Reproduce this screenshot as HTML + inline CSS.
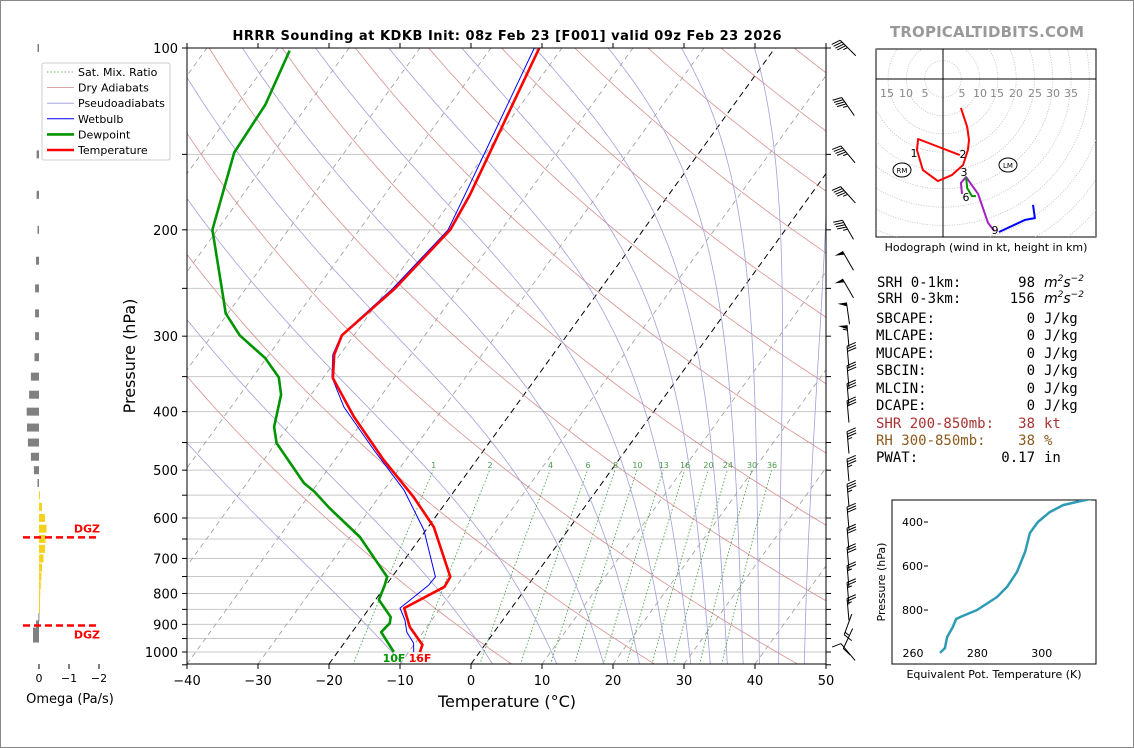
<!DOCTYPE html>
<html><head><meta charset="utf-8"><style>
html,body{margin:0;padding:0;background:#fff}
svg{display:block;font-family:"DejaVu Sans","Liberation Sans",sans-serif}
</style></head><body>
<svg id="fig" xmlns="http://www.w3.org/2000/svg" width="1134" height="748" viewBox="0 0 1134 748">
<defs>
<clipPath id="cmain"><rect x="187" y="48" width="639" height="616"/></clipPath>
<clipPath id="chodo"><rect x="876" y="49" width="220" height="188"/></clipPath>
<clipPath id="ctheta"><rect x="892" y="500" width="204" height="164"/></clipPath>
</defs>
<rect x="0.5" y="0.5" width="1133" height="747" fill="#fff" stroke="#888"/>
<text x="507" y="40" text-anchor="middle" font-size="13" font-weight="bold" textLength="549">HRRR Sounding at KDKB Init: 08z Feb 23 [F001] valid 09z Feb 23 2026</text>
<text x="890" y="37" font-size="15" font-weight="bold" fill="#999" textLength="194">TROPICALTIDBITS.COM</text>
<g id="gmain"></g>
<g id="gomega"></g>
<g id="gbarbs"></g>
<g id="ghodo"></g>
<g id="gtheta"></g>
<text x="507" y="707" text-anchor="middle" font-size="16">Temperature (°C)</text>
<text transform="translate(135,356) rotate(-90)" text-anchor="middle" font-size="16">Pressure (hPa)</text>
<text x="70" y="703" text-anchor="middle" font-size="13">Omega (Pa/s)</text>
<text x="986" y="251" text-anchor="middle" font-size="11">Hodograph (wind in kt, height in km)</text>
<text x="994" y="678" text-anchor="middle" font-size="11">Equivalent Pot. Temperature (K)</text>
<text transform="translate(885,582) rotate(-90)" text-anchor="middle" font-size="11">Pressure (hPa)</text>
<g font-family="'DejaVu Sans Mono','Liberation Mono',monospace" font-size="14">
<text x="877" y="287">SRH 0-1km:</text>
<text x="1035" y="287" text-anchor="end">98</text>
<text x="1044" y="287" font-family="'DejaVu Sans',sans-serif" font-style="italic">m<tspan font-size="9" dy="-6">2</tspan><tspan dy="6">s</tspan><tspan font-size="9" dy="-6">−2</tspan></text>
<text x="877" y="303">SRH 0-3km:</text>
<text x="1035" y="303" text-anchor="end">156</text>
<text x="1044" y="303" font-family="'DejaVu Sans',sans-serif" font-style="italic">m<tspan font-size="9" dy="-6">2</tspan><tspan dy="6">s</tspan><tspan font-size="9" dy="-6">−2</tspan></text>
<text x="876" y="323">SBCAPE:</text>
<text x="1035" y="323" text-anchor="end">0</text>
<text x="1044" y="323">J/kg</text>
<text x="876" y="340">MLCAPE:</text>
<text x="1035" y="340" text-anchor="end">0</text>
<text x="1044" y="340">J/kg</text>
<text x="876" y="358">MUCAPE:</text>
<text x="1035" y="358" text-anchor="end">0</text>
<text x="1044" y="358">J/kg</text>
<text x="876" y="375">SBCIN:</text>
<text x="1035" y="375" text-anchor="end">0</text>
<text x="1044" y="375">J/kg</text>
<text x="876" y="393">MLCIN:</text>
<text x="1035" y="393" text-anchor="end">0</text>
<text x="1044" y="393">J/kg</text>
<text x="876" y="410">DCAPE:</text>
<text x="1035" y="410" text-anchor="end">0</text>
<text x="1044" y="410">J/kg</text>
<text x="876" y="428" fill="#a83232">SHR 200-850mb:</text>
<text x="1035" y="428" text-anchor="end" fill="#a83232">38</text>
<text x="1044" y="428" fill="#a83232">kt</text>
<text x="876" y="445" fill="#8c5a1e">RH 300-850mb:</text>
<text x="1035" y="445" text-anchor="end" fill="#8c5a1e">38</text>
<text x="1044" y="445" fill="#8c5a1e">%</text>
<text x="876" y="462">PWAT:</text>
<text x="1035" y="462" text-anchor="end">0.17</text>
<text x="1044" y="462">in</text>
</g>
</svg>
<script>
// ---------- data ----------
const tempP = [100,175,200,250,299,322,352,408,481,554,621,751,780,846,909,973,1000];
const tempT = [-53.2,-48.0,-47.2,-49.0,-51.7,-50.8,-48.6,-41.7,-33.1,-25.1,-19.2,-11.8,-11.6,-15.1,-12.4,-8.8,-8.4];
const dewP = [101,124,149,200,250,275,299,326,351,375,424,451,525,543,578,645,751,775,820,875,896,927,1000];
const dewT = [-88.1,-86.0,-85.5,-80.7,-73.4,-70.3,-66.1,-60.2,-56.3,-54.2,-51.9,-49.9,-42.0,-39.6,-35.8,-28.6,-20.7,-20.2,-19.5,-16.1,-15.6,-15.9,-12.1];
const wbP = [100,175,200,250,299,322,351,393,463,539,628,751,775,846,885,927,967,1000];
const wbT = [-53.9,-48.7,-47.5,-49.3,-51.8,-51.0,-48.8,-44.1,-35.5,-27.2,-20.3,-13.9,-14.0,-15.7,-13.8,-12.3,-10.2,-9.3];
const mixRatios = [1,2,4,6,8,10,13,16,20,24,30,36];
const tempTicks = [-40,-30,-20,-10,0,10,20,30,40,50];
const presTicks = [100,200,300,400,500,600,700,800,900,1000];
const omegaP = [100,150,175,200,225,250,275,300,325,350,375,400,425,450,475,500,525,550,575,600,625,650,675,700,725,750,775,800,825,850,875,900,925,950];
const omegaV = [0.05,0.08,0.08,0.05,0.1,0.13,0.13,0.13,0.15,0.27,0.33,0.41,0.4,0.37,0.27,0.17,0.05,-0.02,-0.1,-0.2,-0.25,-0.22,-0.2,-0.15,-0.1,-0.08,-0.06,-0.04,-0.02,-0.01,0.02,0.1,0.2,0.2];
const dgzP = [646,904];
const windP = [100,125,150,175,200,225,250,275,300,325,350,375,400,450,500,550,600,650,700,750,800,850,900,950,1000];
const windDir = [315,325,320,318,330,330,330,352,355,355,355,355,355,355,355,355,355,355,355,355,355,355,200,205,320];
const windSpd = [45,45,45,45,45,50,50,50,55,30,30,30,30,35,35,35,30,30,30,25,25,25,15,10,10];
const hodoRedU = [4.9,6.6,7.1,6.8,5.5,2.5,-1.4,-5.5,-7.1,-6.8,4.6];
const hodoRedV = [-7.9,-13.1,-16.7,-19.4,-23.5,-26.2,-27.9,-24.9,-19.4,-16.4,-20.8];
const hodoGreenU = [6.3,6.6,7.9,9.0];
const hodoGreenV = [-26.8,-29.8,-32.0,-32.0];
const hodoPurpleU = [5.2,4.9,6.3,9.6,12.3,14.0];
const hodoPurpleV = [-31.4,-28.4,-26.8,-31.4,-39.3,-41.5];
const hodoBlueU = [15.3,22.4,25.1,24.6];
const hodoBlueV = [-41.8,-38.5,-38.0,-34.4];
const thetaP = [995,973,923,877,841,827,800,741,695,627,536,450,400,355,323,305,291];
const thetaK = [268.4,269.9,270.6,272.4,273.4,275.5,279.9,286.1,289.2,292.3,294.8,296.3,298.8,302.5,306.6,311.9,316.8];

// ---------- helpers ----------
const NS = "http://www.w3.org/2000/svg";
function mk(tag, attrs, parent){ const el=document.createElementNS(NS,tag); for(const k in attrs) el.setAttribute(k,attrs[k]); parent.appendChild(el); return el; }
function nm(el, name, inter){
  
  
  return el;
}
const Y = p => 48 + 604*Math.log10(p/100);
const X = (T,y) => 187 + (T+40)*7.1 + 0.724*(664-y);
const pathOf = pts => pts.map((q,i)=>(i?'L':'M')+q[0].toFixed(1)+' '+q[1].toFixed(1)).join(' ');

const gm = document.getElementById('gmain');
const clip = mk('g',{'clip-path':'url(#cmain)'},gm);
nm(clip,'plot-area',false);

// isobars
for(let p=100;p<=1050;p+=50){ const y=Y(p);
  const l=mk('line',{x1:187,x2:826,y1:y,y2:y,stroke:'#c8c8c8','stroke-width':1},clip);
  nm(l,'isobar-'+p,false); }
// isotherms
for(let T=-150;T<=50;T+=10){
  const x1=X(T,664), x2=X(T,48);
  const special = (T===0||T===-20);
  const l=mk('line',{x1:x1,y1:664,x2:x2,y2:48,stroke: special?'#000':'#999','stroke-width':special?1:0.8,'stroke-dasharray':special?'6,4':'5,4'},clip);
  nm(l, special?'key-isotherm-'+T:'isotherm-'+T,false);
}
// dry adiabats (evenly spaced at 100 hPa)
for(let k=-9;k<=3;k++){
  const th=(-37.9+10.3*k+273.15)/Math.pow(0.1,0.2857);
  const pts=[]; for(let p=1050;p>=100;p-=10){ const T=th*Math.pow(p/1000,0.2857)-273.15; const y=Y(p); pts.push([X(T,y),y]); }
  const l=mk('path',{d:pathOf(pts),fill:'none',stroke:'#d89090','stroke-width':0.8},clip);
  nm(l,'dry-adiabat',false);
}
// moist adiabats (integrated down from 100 hPa)
function es(T){ return 6.112*Math.exp(17.67*T/(T+243.5)); }
function dTdp(p,T){ const Tk=T+273.15, e=es(T), rs=0.622*e/Math.max(p-e,1); 
  return (287*Tk + 2.5e6*rs)/(p*(1005 + 2.5e6*2.5e6*rs*0.622/(287*Tk*Tk))); }
for(let k=-4;k<=10;k++){
  let T=-95.0+10.3*k; const pts=[];
  for(let p=100;p<=1050;p+=1){ const y=Y(p); pts.push([X(T,y),y]); T+=dTdp(p,T)*1; if(T>80) break; }
  const l=mk('path',{d:pathOf(pts),fill:'none',stroke:'#a0a0dc','stroke-width':0.8},clip);
  nm(l,'moist-adiabat',false);
}
// mixing ratio lines
mixRatios.forEach(w=>{
  const pts=[]; for(let p=1050;p>=500;p-=10){ const e=p*w/(622+w); const L=Math.log(e/6.112); const T=243.5*L/(17.67-L); const y=Y(p); pts.push([X(T,y),y]); }
  const l=mk('path',{d:pathOf(pts),fill:'none',stroke:'#3a9a3a','stroke-width':0.8,'stroke-dasharray':'1.5,2'},clip);
  nm(l,'mixing-ratio-line',false);
  const e=500*w/(622+w), L=Math.log(e/6.112), T=243.5*L/(17.67-L);
  const t=mk('text',{x:X(T,Y(500))+0.5,y:468,'font-size':8,fill:'#4a9a4a','text-anchor':'middle'},clip);
  nm(t,'mixing-ratio-label',false);
  t.textContent=String(w);
});
// traces
function trace(P,T,color,w,name){
  const pts=P.map((p,i)=>{const y=Y(p); return [X(T[i],y),y];});
  const l=mk('path',{d:pathOf(pts),fill:'none',stroke:color,'stroke-width':w,'stroke-linejoin':'round'},clip);
  nm(l,name,false);
}
trace(wbP,wbT,'#0000ff',1,'wetbulb-line');
trace(dewP,dewT,'#009400',2.6,'dewpoint-line');
trace(tempP,tempT,'#ff0000',2.6,'temperature-line');
// surface labels
const tdF = Math.floor(dewT[dewT.length-1]*9/5+32), tF=Math.floor(tempT[tempT.length-1]*9/5+32);
let st=mk('text',{x:394,y:662,'font-size':11,'font-weight':'bold',fill:'#009400','text-anchor':'middle'},gm);
nm(st,'surface-dewpoint-label',false);
st.textContent=tdF+'F';
st=mk('text',{x:420,y:662,'font-size':11,'font-weight':'bold',fill:'#ff0000','text-anchor':'middle'},gm);
nm(st,'surface-temperature-label',false);
st.textContent=tF+'F';
// frame
const fr=mk('rect',{x:187,y:48,width:639,height:616,fill:'none',stroke:'#000','stroke-width':1},gm);
nm(fr,'plot-frame',false);
// ticks
for(let p=100;p<=1050;p+=50){ const y=Y(p);
  let t=mk('line',{x1:182,x2:187,y1:y,y2:y,stroke:'#000'},gm); nm(t,'y-tick',false);
  t=mk('line',{x1:826,x2:831,y1:y,y2:y,stroke:'#000'},gm); nm(t,'y-tick-right',false); }
presTicks.forEach(p=>{ const t=mk('text',{x:178,y:Y(p)+5,'font-size':13,'text-anchor':'end'},gm); nm(t,'y-tick-label',false); t.textContent=p; });
tempTicks.forEach(T=>{ const x=187+(T+40)*7.1;
  let l=mk('line',{x1:x,x2:x,y1:664,y2:669,stroke:'#000'},gm); nm(l,'x-tick',false);
  l=mk('line',{x1:x,x2:x,y1:43,y2:48,stroke:'#000'},gm); nm(l,'x-tick-top',false);
  const t=mk('text',{x:x,y:685,'font-size':13,'text-anchor':'middle'},gm); nm(t,'x-tick-label',false);
  t.textContent=(T<0?'−':'')+Math.abs(T); });
// legend
const lg=mk('g',{},gm); nm(lg,'legend',false);
const lb=mk('rect',{x:42,y:63,width:128,height:97,fill:'#fff',stroke:'#ccc',rx:2},lg); nm(lb,'legend-box',false);
const legItems=[['Sat. Mix. Ratio','#3a9a3a',0.8,'1.5,2'],['Dry Adiabats','#d08a8a',0.8,''],['Pseudoadiabats','#9a9ad6',0.8,''],['Wetbulb','#0000ff',1,''],['Dewpoint','#009400',2.6,''],['Temperature','#ff0000',2.6,'']];
legItems.forEach((it,i)=>{ const y=72+i*15.6;
  const l=mk('line',{x1:47,x2:74,y1:y,y2:y,stroke:it[1],'stroke-width':it[2],'stroke-dasharray':it[3]},lg); nm(l,'legend-swatch',false);
  const t=mk('text',{x:78,y:y+4,'font-size':11},lg); nm(t,'legend-entry',false); t.textContent=it[0]; });

// ---------- omega panel ----------
const go=document.getElementById('gomega');
const OX = v => 39 - v*30;
omegaP.forEach((p,i)=>{ const v=omegaV[i], y=Y(p);
  const x0=Math.min(39,OX(v)), w=Math.max(1,Math.abs(OX(v)-39));
  const r=mk('rect',{x:x0,y:y-4,width:w,height:8,fill: v<0?'#f5d21e':'#808080'},go); nm(r,'omega-bar',false); });
dgzP.forEach((p,i)=>{ const y=Y(p);
  const l=mk('line',{x1:23,x2:98,y1:y,y2:y,stroke:'#ff0000','stroke-width':2.5,'stroke-dasharray':'7,4'},go); nm(l,'dgz-line',false);
  const t=mk('text',{x:100,y:i===0?y-5:y+13,'font-size':11,'font-weight':'bold',fill:'#ff0000','text-anchor':'end'},go); nm(t,'dgz-label',false); t.textContent='DGZ'; });
[0,-1,-2].forEach(v=>{ const x=OX(v);
  const l=mk('line',{x1:x,x2:x,y1:664,y2:669,stroke:'#000'},go); nm(l,'omega-tick',false);
  const t=mk('text',{x:x,y:682,'font-size':11,'text-anchor':'middle'},go); nm(t,'omega-tick-label',false); t.textContent=v===0?'0':'−'+Math.abs(v); });

// ---------- wind barbs (pivot at middle) ----------
const gb=document.getElementById('gbarbs');
windP.forEach((p,i)=>{
  const d=windDir[i]*Math.PI/180;
  const ux=Math.sin(d), uy=-Math.cos(d), L=22;
  const side = (p>=325 && p<=850) ? -1 : 1;
  const px=uy*side, py=-ux*side;
  const bx=848-ux*L/2, by=Y(p)-uy*L/2;
  const g=mk('g',{},gb); nm(g,'wind-barb-'+p,false);
  const tx=bx+ux*L, ty=by+uy*L;
  const s=mk('line',{x1:bx,y1:by,x2:tx,y2:ty,stroke:'#000','stroke-width':1},g); nm(s,'barb-staff',false);
  let spd=Math.round(windSpd[i]/5)*5, pos=0;
  while(spd>=50){ const ax=tx-ux*pos, ay=ty-uy*pos;
    const f=mk('polygon',{points:`${ax},${ay} ${ax+px*9},${ay+py*9} ${ax-ux*4},${ay-uy*4}`,fill:'#000'},g); nm(f,'barb-pennant',false);
    spd-=50; pos+=5; }
  while(spd>=10){ const ax=tx-ux*pos, ay=ty-uy*pos;
    const f=mk('line',{x1:ax,y1:ay,x2:ax+px*9+ux*3,y2:ay+py*9+uy*3,stroke:'#000','stroke-width':1},g); nm(f,'barb-feather',false);
    spd-=10; pos+=2.6; }
  if(spd>=5){ if(pos===0) pos=2.6; const ax=tx-ux*pos, ay=ty-uy*pos;
    const f=mk('line',{x1:ax,y1:ay,x2:ax+px*4.5+ux*1.5,y2:ay+py*4.5+uy*1.5,stroke:'#000','stroke-width':1},g); nm(f,'barb-half-feather',false); }
});

// ---------- hodograph ----------
const gh=document.getElementById('ghodo');
const HX=u=>943+u*3.66, HY=v=>79-v*3.66;
const hb=mk('rect',{x:876,y:49,width:220,height:188,fill:'#fff',stroke:'#000'},gh); nm(hb,'hodograph-frame',false);
const hc=mk('g',{'clip-path':'url(#chodo)'},gh); nm(hc,'hodograph-area',false);
for(let r=5;r<=70;r+=5){ const c=mk('circle',{cx:943,cy:79,r:r*3.66,fill:'none',stroke:'#bbb','stroke-width':0.8,'stroke-dasharray':'1,1.5'},hc); nm(c,'hodograph-ring',false); }
let ax=mk('line',{x1:943,x2:943,y1:49,y2:237,stroke:'#000'},hc); nm(ax,'hodograph-v-axis',false);
ax=mk('line',{x1:876,x2:1096,y1:79,y2:79,stroke:'#000'},hc); nm(ax,'hodograph-u-axis',false);
[[-15,887],[-10,906],[-5,925],[5,962],[10,980],[15,997],[20,1016],[25,1035],[30,1053],[35,1071]].forEach(a=>{
  const t=mk('text',{x:a[1],y:97,'font-size':11,fill:'#888','text-anchor':'middle'},hc); nm(t,'hodograph-ring-label',false); t.textContent=Math.abs(a[0]); });
function hseg(U,V,col,name){ const pts=U.map((u,i)=>[HX(u),HY(V[i])]);
  const l=mk('path',{d:pathOf(pts),fill:'none',stroke:col,'stroke-width':2,'stroke-linejoin':'round'},hc); nm(l,name,false); }
hseg(hodoRedU,hodoRedV,'#ff0000','hodograph-0-3km');
hseg(hodoPurpleU,hodoPurpleV,'#a020c0','hodograph-6-9km');
hseg(hodoGreenU,hodoGreenV,'#009400','hodograph-3-6km');
hseg(hodoBlueU,hodoBlueV,'#0000ff','hodograph-9-12km');
[['1',914,157],['2',963,158],['3',964,176],['6',966,201],['9',995,234]].forEach(a=>{
  const t=mk('text',{x:a[1],y:a[2],'font-size':11,'text-anchor':'middle'},hc); nm(t,'hodograph-height-label',false); t.textContent=a[0]; });
[['RM',902,170],['LM',1008,165]].forEach(a=>{
  const e=mk('ellipse',{cx:a[1],cy:a[2],rx:9,ry:7,fill:'none',stroke:'#000','stroke-width':1},hc); nm(e,'storm-motion-marker',false);
  const t=mk('text',{x:a[1],y:a[2]+3,'font-size':7,'text-anchor':'middle'},hc); nm(t,'storm-motion-label',false); t.textContent=a[0]; });

// ---------- theta-e ----------
const gt=document.getElementById('gtheta');
const TX=k=>913+(k-260)*3.22, TY=p=>522+(p-400)*0.22;
const tb=mk('rect',{x:892,y:500,width:204,height:164,fill:'#fff',stroke:'#000'},gt); nm(tb,'theta-frame',false);
const tc=mk('g',{'clip-path':'url(#ctheta)'},gt); nm(tc,'theta-area',false);
const tl=mk('path',{d:pathOf(thetaP.map((p,i)=>[TX(thetaK[i]),TY(p)])),fill:'none',stroke:'#2e9bb4','stroke-width':2.5,'stroke-linejoin':'round'},tc); nm(tl,'theta-e-line',false);
[400,600,800].forEach(p=>{ const t=mk('text',{x:902,y:TY(p)+4,'font-size':11},gt); nm(t,'theta-y-tick-label',false); t.textContent=p;
  const l=mk('line',{x1:924,x2:928,y1:TY(p),y2:TY(p),stroke:'#000'},gt); nm(l,'theta-y-tick',false); });
[260,280,300].forEach(k=>{ const t=mk('text',{x:TX(k),y:657,'font-size':11,'text-anchor':'middle'},gt); nm(t,'theta-x-tick-label',false); t.textContent=k; });
</script>
</body></html>
